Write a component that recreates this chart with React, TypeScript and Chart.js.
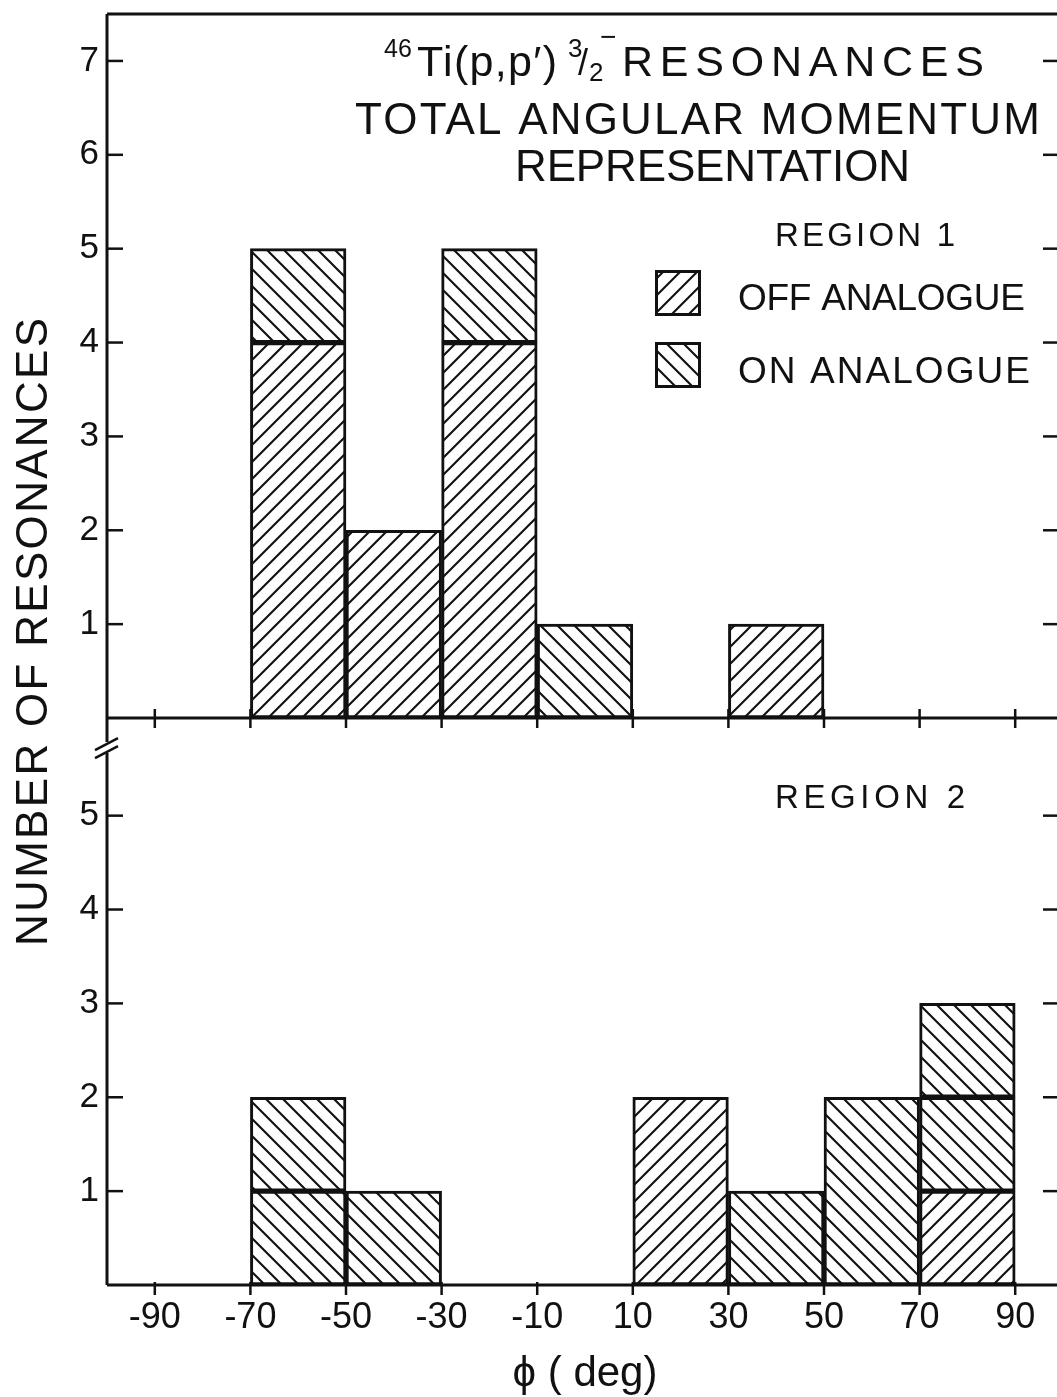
import { useEffect, useRef } from 'react';
import { Chart, registerables } from 'chart.js';

Chart.register(...registerables);

// Histogram bins: centre of each 20-degree bin in phi
const binCenters = [-60, -40, -20, 0, 20, 40, 60, 80];

// Region 1 counts per bin
const region1Off = [4, 2, 4, null, null, 1, null, null];
const region1On = [1, null, 1, 1, null, null, null, null];

// Region 2 counts per bin (the upper "on" box is a separately outlined resonance)
const region2Off = [null, null, null, null, 2, null, null, 1];
const region2On = [1, 1, null, null, null, 1, 2, 1];
const region2OnUpper = [1, null, null, null, null, null, null, 1];

// Axis ticks
const xTickValues = [-90, -70, -50, -30, -10, 10, 30, 50, 70, 90];
const xTickLabels = ['-90', '-70', '-50', '-30', '-10', '10', '30', '50', '70', '90'];
const region1TickValues = [1, 2, 3, 4, 5, 6, 7];
const region2TickValues = [1, 2, 3, 4, 5];
const region1Max = 7.5;
const region2Max = 6.04;

const INK = '#111111';
const FONT = '"Liberation Sans", Arial, sans-serif';

function makeHatch(dir: number): CanvasPattern {
  const s = 17;
  const c = document.createElement('canvas');
  c.width = s;
  c.height = s;
  const g = c.getContext('2d')!;
  g.fillStyle = '#ffffff';
  g.fillRect(0, 0, s, s);
  g.strokeStyle = INK;
  g.lineWidth = 2.1;
  g.beginPath();
  if (dir > 0) {
    g.moveTo(0, s); g.lineTo(s, 0);
    g.moveTo(-3, 3); g.lineTo(3, -3);
    g.moveTo(s - 3, s + 3); g.lineTo(s + 3, s - 3);
  } else {
    g.moveTo(0, 0); g.lineTo(s, s);
    g.moveTo(-3, s - 3); g.lineTo(3, s + 3);
    g.moveTo(s - 3, -3); g.lineTo(s + 3, 3);
  }
  g.stroke();
  return g.createPattern(c, 'repeat')!;
}

// draws text stretched by letter spacing to a given width
function spacedText(ctx: CanvasRenderingContext2D, text: string, x: number, y: number, width: number, align: 'left' | 'center' = 'left') {
  (ctx as any).letterSpacing = '0px';
  const w0 = ctx.measureText(text).width;
  const n = Array.from(text).length;
  const sp = n > 1 ? (width - w0) / (n - 1) : 0;
  (ctx as any).letterSpacing = `${sp}px`;
  ctx.textAlign = 'left';
  const sx = align === 'center' ? x - width / 2 : x;
  ctx.fillText(text, sx, y);
  (ctx as any).letterSpacing = '0px';
}

function line(ctx: CanvasRenderingContext2D, x1: number, y1: number, x2: number, y2: number) {
  ctx.beginPath();
  ctx.moveTo(x1, y1);
  ctx.lineTo(x2, y2);
  ctx.stroke();
}

export default function App() {
  const ref = useRef<HTMLCanvasElement | null>(null);

  useEffect(() => {
    const canvas = ref.current;
    if (!canvas) return;
    const offPattern = makeHatch(1);
    const onPattern = makeHatch(-1);

    const toPoints = (vals: (number | null)[]) => binCenters.map((x, i) => ({ x, y: vals[i] }));
    const common = {
      borderColor: INK,
      borderWidth: 3,
      borderSkipped: false as const,
      grouped: false,
      barPercentage: 1,
      categoryPercentage: 1,
      stack: 'counts',
    };

    const framePlugin = {
      id: 'frame',
      afterDraw(chart: any) {
        const { ctx, chartArea } = chart;
        const { left, right, top, bottom } = chartArea;
        const x = chart.scales.x;
        const yTop = chart.scales.yTop;
        const yBottom = chart.scales.yBottom;
        const mid = yTop.getPixelForValue(0);
        ctx.save();
        ctx.strokeStyle = INK;
        ctx.lineCap = 'butt';
        ctx.lineWidth = 3;
        line(ctx, left, top, right, top);
        line(ctx, left, mid, right, mid);
        line(ctx, left, bottom, right + 5, bottom);
        line(ctx, right, top, right, bottom);
        // left axis with a break just under the region 1 baseline
        line(ctx, left, top, left, mid + 24);
        line(ctx, left, mid + 35, left, bottom);
        ctx.lineWidth = 2.5;
        line(ctx, left - 12, mid + 32, left + 11, mid + 20);
        line(ctx, left - 12, mid + 40, left + 11, mid + 28);
        // inward y ticks on both sides
        region1TickValues.forEach((v) => {
          const py = yTop.getPixelForValue(v);
          line(ctx, left, py, left + 16, py);
          line(ctx, right - 20, py, right, py);
        });
        region2TickValues.forEach((v) => {
          const py = yBottom.getPixelForValue(v);
          line(ctx, left, py, left + 16, py);
          line(ctx, right - 20, py, right, py);
        });
        // x ticks on both baselines
        xTickValues.forEach((v) => {
          const px = x.getPixelForValue(v);
          line(ctx, px, mid - 9, px, mid + 10);
          line(ctx, px, bottom - 3, px, bottom + 10);
        });
        ctx.restore();
      },
    };

    const textPlugin = {
      id: 'annotations',
      afterDraw(chart: any) {
        const ctx: CanvasRenderingContext2D = chart.ctx;
        ctx.save();
        ctx.fillStyle = INK;
        ctx.textBaseline = 'alphabetic';

        // header line: 46Ti(p,p') 3/2- RESONANCES
        ctx.font = `25px ${FONT}`;
        ctx.textAlign = 'left';
        ctx.fillText('46', 384, 57);
        ctx.font = `43px ${FONT}`;
        spacedText(ctx, 'Ti(p,p′)', 417, 76, 140);
        ctx.font = `26px ${FONT}`;
        ctx.fillText('3', 568, 57);
        ctx.fillText('2', 589, 81);
        ctx.font = `36px ${FONT}`;
        ctx.fillText('/', 578, 75);
        ctx.font = `28px ${FONT}`;
        ctx.fillText('−', 600, 46);
        ctx.font = `43px ${FONT}`;
        spacedText(ctx, 'RESONANCES', 622, 76, 362);
        ctx.font = `44px ${FONT}`;
        spacedText(ctx, 'TOTAL ANGULAR MOMENTUM', 355, 134, 685);
        spacedText(ctx, 'REPRESENTATION', 515, 181, 395);

        ctx.font = `33px ${FONT}`;
        spacedText(ctx, 'REGION 1', 775, 246, 180);
        spacedText(ctx, 'REGION 2', 775, 808, 190);
        ctx.font = `37px ${FONT}`;
        spacedText(ctx, 'OFF ANALOGUE', 738, 310, 287);
        spacedText(ctx, 'ON ANALOGUE', 738, 383, 292);

        // legend swatches
        const boxes: [CanvasPattern, number][] = [[offPattern, 270], [onPattern, 342]];
        boxes.forEach(([pat, y]) => {
          ctx.fillStyle = pat;
          ctx.fillRect(655, y, 46, 46);
          ctx.strokeStyle = INK;
          ctx.lineWidth = 3;
          ctx.strokeRect(656.5, y + 1.5, 43, 43);
        });

        // y-axis title
        ctx.fillStyle = INK;
        ctx.font = `44px ${FONT}`;
        ctx.translate(35, 632);
        ctx.rotate(-Math.PI / 2);
        ctx.textBaseline = 'middle';
        spacedText(ctx, 'NUMBER OF RESONANCES', 0, 0, 628, 'center');
        ctx.restore();
      },
    };

    const yTickFont = { family: FONT, size: 35 };

    const chart = new Chart(canvas, {
      type: 'bar',
      data: {
        datasets: [
          { label: 'OFF ANALOGUE', data: toPoints(region1Off), yAxisID: 'yTop', backgroundColor: offPattern, ...common },
          { label: 'ON ANALOGUE', data: toPoints(region1On), yAxisID: 'yTop', backgroundColor: onPattern, ...common },
          { label: 'OFF ANALOGUE', data: toPoints(region2Off), yAxisID: 'yBottom', backgroundColor: offPattern, ...common },
          { label: 'ON ANALOGUE', data: toPoints(region2On), yAxisID: 'yBottom', backgroundColor: onPattern, ...common },
          { label: 'ON ANALOGUE', data: toPoints(region2OnUpper), yAxisID: 'yBottom', backgroundColor: onPattern, ...common },
        ] as any,
      },
      options: {
        responsive: false,
        animation: false,
        devicePixelRatio: 1,
        layout: { padding: { left: 0, top: 14, right: 37, bottom: 0 } },
        plugins: { legend: { display: false }, tooltip: { enabled: false } },
        scales: {
          // stacked vertical axes are laid out bottom-up in declaration order
          yBottom: {
            type: 'linear',
            position: 'left',
            stack: 'panels',
            stackWeight: region2Max,
            stacked: true,
            min: 0,
            max: region2Max,
            afterBuildTicks: (s: any) => { s.ticks = region2TickValues.map((v) => ({ value: v })); },
            afterFit: (s: any) => { s.width = 107; s.paddingTop = 0; s.paddingBottom = 0; },
            ticks: { font: yTickFont, color: INK, padding: 8, callback: (v: any) => String(v) },
            grid: { display: false, drawTicks: false },
            border: { display: false },
          },
          yTop: {
            type: 'linear',
            position: 'left',
            stack: 'panels',
            stackWeight: region1Max,
            stacked: true,
            min: 0,
            max: region1Max,
            afterBuildTicks: (s: any) => { s.ticks = region1TickValues.map((v) => ({ value: v })); },
            afterFit: (s: any) => { s.width = 107; s.paddingTop = 0; s.paddingBottom = 0; },
            ticks: { font: yTickFont, color: INK, padding: 8, callback: (v: any) => String(v) },
            grid: { display: false, drawTicks: false },
            border: { display: false },
          },
          x: {
            type: 'linear',
            position: 'bottom',
            offset: false,
            min: -100,
            max: 100,
            afterBuildTicks: (s: any) => { s.ticks = xTickValues.map((v) => ({ value: v })); },
            afterFit: (s: any) => { s.height = 112; s.paddingLeft = 0; s.paddingRight = 0; },
            ticks: {
              font: { family: FONT, size: 36 },
              color: INK,
              padding: 11,
              maxRotation: 0,
              autoSkip: false,
              callback: (v: any) => xTickLabels[xTickValues.indexOf(Number(v))] ?? '',
            },
            grid: { display: false, drawTicks: false },
            border: { display: false },
            title: {
              display: true,
              text: 'ϕ ( deg)',
              color: INK,
              font: { family: FONT, size: 42, lineHeight: 1 },
              padding: { top: 0, bottom: 2 },
            },
          },
        },
      } as any,
      plugins: [framePlugin, textPlugin],
    });

    return () => chart.destroy();
  }, []);

  return (
    <div style={{ position: 'absolute', left: 0, top: 0, width: 1057, height: 1397, overflow: 'hidden', background: '#ffffff' }}>
      <canvas ref={ref} width={1100} height={1397} style={{ display: 'block' }} />
    </div>
  );
}
